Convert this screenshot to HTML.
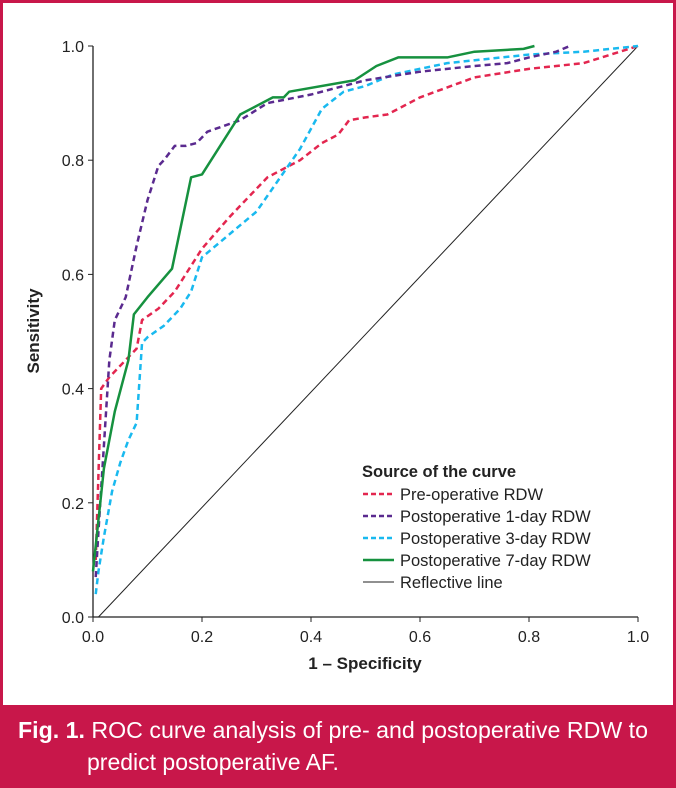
<!DOCTYPE html>
<html><head><meta charset="utf-8"><style>
html,body{margin:0;padding:0;background:#fff;}
svg{display:block;font-family:"Liberation Sans",Arial,sans-serif;}
</style></head><body>
<svg id="chart" width="676" height="788" viewBox="0 0 676 788">
<rect x="0" y="0" width="676" height="788" fill="#fff"/>
<rect x="1.5" y="1.5" width="673" height="785" fill="none" stroke="#c8174a" stroke-width="3"/>
<rect x="0" y="705" width="676" height="83" fill="#c8174a"/>
<text x="18" y="738" fill="#fff" font-size="23" textLength="630" lengthAdjust="spacingAndGlyphs"><tspan font-weight="bold">Fig. 1.</tspan> ROC curve analysis of pre- and postoperative RDW to</text>
<text x="87" y="770" fill="#fff" font-size="23">predict postoperative AF.</text>
<g id="axes"></g>
<g id="series"></g>
<text x="365" y="669" text-anchor="middle" font-size="17" font-weight="bold" fill="#222">1 – Specificity</text>
<text transform="translate(39,331) rotate(-90)" text-anchor="middle" font-size="17" font-weight="bold" fill="#222">Sensitivity</text>
<g id="legend" fill="#222">
<text x="362" y="477" font-weight="bold" font-size="16.5">Source of the curve</text>
</g>
</svg>
<script>
const xTicks=[0,0.2,0.4,0.6,0.8,1.0];
const yTicks=[0,0.2,0.4,0.6,0.8,1.0];
const tickLabels=["0.0","0.2","0.4","0.6","0.8","1.0"];
const seriesNames=["Pre-operative RDW","Postoperative 1-day RDW","Postoperative 3-day RDW","Postoperative 7-day RDW","Reflective line"];
const preX=[0.005,0.01,0.015,0.03,0.07,0.08,0.09,0.12,0.15,0.2,0.25,0.32,0.38,0.42,0.45,0.47,0.5,0.54,0.6,0.7,0.8,0.9,1];
const preY=[0.1,0.25,0.40,0.42,0.46,0.47,0.52,0.54,0.57,0.645,0.7,0.77,0.8,0.83,0.845,0.87,0.875,0.88,0.91,0.945,0.96,0.97,1];
const d1X=[0.005,0.01,0.02,0.03,0.04,0.06,0.08,0.1,0.12,0.13,0.15,0.17,0.19,0.21,0.24,0.27,0.32,0.4,0.5,0.6,0.7,0.76,0.8,0.85,0.875];
const d1Y=[0.07,0.15,0.3,0.45,0.52,0.56,0.65,0.73,0.79,0.8,0.825,0.825,0.83,0.85,0.86,0.87,0.9,0.915,0.94,0.955,0.965,0.97,0.98,0.99,1];
const d3X=[0.005,0.01,0.02,0.035,0.05,0.065,0.08,0.09,0.1,0.13,0.16,0.18,0.2,0.25,0.3,0.38,0.42,0.46,0.5,0.55,0.65,0.8,0.9,1];
const d3Y=[0.04,0.08,0.14,0.22,0.27,0.31,0.34,0.48,0.49,0.51,0.54,0.57,0.63,0.67,0.71,0.82,0.89,0.92,0.93,0.95,0.97,0.985,0.99,1];
const d7X=[0,0.01,0.02,0.04,0.065,0.075,0.1,0.145,0.18,0.2,0.27,0.33,0.35,0.36,0.48,0.52,0.56,0.6,0.65,0.7,0.79,0.81];
const d7Y=[0.08,0.17,0.26,0.36,0.45,0.53,0.56,0.61,0.77,0.775,0.88,0.91,0.91,0.92,0.94,0.965,0.98,0.98,0.98,0.99,0.995,1];
const refX=[0.01,1];
const refY=[0,1];
const NS="http://www.w3.org/2000/svg";
const X0=93,X1=638,Y0=617,Y1=46;
const sx=v=>X0+v*(X1-X0), sy=v=>Y0-v*(Y0-Y1);
function mk(tag,attrs,parent){const e=document.createElementNS(NS,tag);for(const k in attrs)e.setAttribute(k,attrs[k]);parent.appendChild(e);return e;}
const axes=document.getElementById('axes');
let a=mk('line',{x1:X0,y1:Y0,x2:X1,y2:Y0,stroke:'#222','stroke-width':1.3},axes);


a=mk('line',{x1:X0,y1:Y0,x2:X0,y2:Y1,stroke:'#222','stroke-width':1.3},axes);


xTicks.forEach((v,i)=>{
  mk('line',{x1:sx(v),y1:Y0,x2:sx(v),y2:Y0+5,stroke:'#222'},axes);
  const t=mk('text',{x:sx(v),y:Y0+25,'text-anchor':'middle','font-size':16,fill:'#222'},axes);
  t.textContent=tickLabels[i];
  
  
});
yTicks.forEach((v,i)=>{
  mk('line',{x1:X0-5,y1:sy(v),x2:X0,y2:sy(v),stroke:'#222'},axes);
  const t=mk('text',{x:X0-9,y:sy(v)+6,'text-anchor':'end','font-size':16,fill:'#222'},axes);
  t.textContent=tickLabels[i];
  
  
});
const ser=document.getElementById('series');
const defs=[[refX,refY,'#222',1,null,'reflective-line'],[preX,preY,'#e3264f',2.5,'6,4','pre-operative-curve'],[d3X,d3Y,'#19b9ef',2.5,'6,4','day3-curve'],[d1X,d1Y,'#5a2a8f',2.5,'6,4','day1-curve'],[d7X,d7Y,'#16913f',2.5,null,'day7-curve']];
defs.forEach(([xs,ys,c,w,dash,name])=>{
  const p=mk('polyline',{points:xs.map((x,i)=>sx(x)+','+sy(ys[i])).join(' '),fill:'none',stroke:c,'stroke-width':w,'stroke-linejoin':'round'},ser);
  if(dash)p.setAttribute('stroke-dasharray',dash);
  
  
});
const lg=document.getElementById('legend');
const lgStyle=[['#e3264f',2.5,'6,4'],['#5a2a8f',2.5,'6,4'],['#19b9ef',2.5,'6,4'],['#16913f',2.5,null],['#222',1,null]];
seriesNames.forEach((n,i)=>{
  const y=494+i*22;
  const l=mk('line',{x1:363,y1:y,x2:394,y2:y,stroke:lgStyle[i][0],'stroke-width':lgStyle[i][1]},lg);
  if(lgStyle[i][2])l.setAttribute('stroke-dasharray','5,3');
  
  
  const t=mk('text',{x:400,y:y+6,'font-size':16.5,fill:'#222'},lg);
  t.textContent=n;
  
  
});
</script>
</body></html>
